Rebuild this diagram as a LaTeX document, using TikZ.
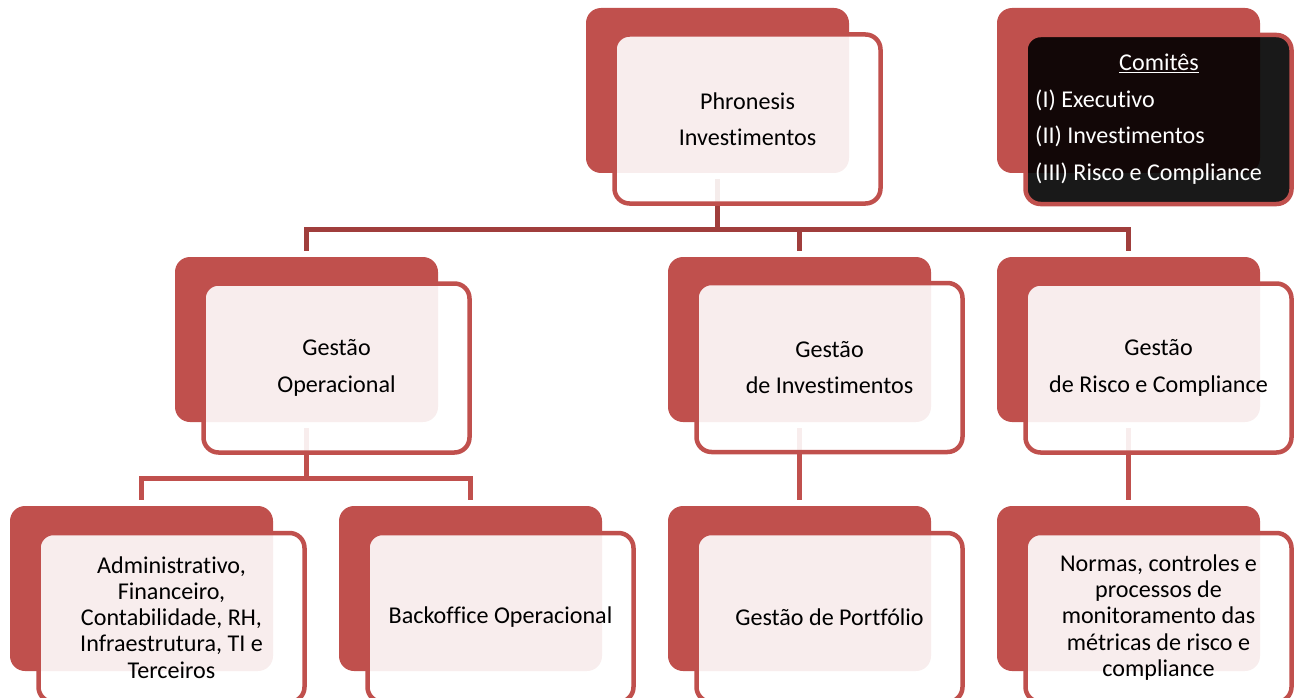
\documentclass[tikz,border=0pt]{standalone}
\usepackage{fontspec}
\setmainfont{Carlito}[Ligatures=NoCommon]
\definecolor{accred}{RGB}{192,80,77}
\definecolor{darkconn}{RGB}{160,62,60}
\tikzset{
 backbox/.style={fill=accred, draw=none, rounded corners=15pt, minimum width=263pt, minimum height=165pt, inner sep=0pt},
 frontbox/.style={draw=accred, line width=4.5pt, fill=white, fill opacity=0.9, draw opacity=1, text opacity=1, rounded corners=15pt, minimum width=266pt, minimum height=169pt, inner sep=0pt, align=center, font=\fontsize{24.1}{36.5}\selectfont},
 darkfront/.style={frontbox, fill=black},
 comtext/.style={text=white, align=left, inner sep=0pt, font=\fontsize{24.1}{36.5}\selectfont},
 smalltext/.style={font=\fontsize{24.1}{26.2}\selectfont},
 conntop/.style={draw=darkconn, line width=5pt},
 connlow/.style={draw=accred, line width=5pt},
}
\begin{document}
\begin{tikzpicture}[x=1pt,y=-1pt]
\useasboundingbox (0,0) rectangle (1296,698);
\clip (0,0) rectangle (1296,698);
% back boxes
\node[backbox] (pb) at (717.5,90.5) {};
\node[backbox] (cb) at (1128.5,90.5) {};
\node[backbox] (gob) at (306.5,339.5) {};
\node[backbox] (gib) at (799.5,339.5) {};
\node[backbox] (grb) at (1128.5,339.5) {};
\node[backbox] (adb) at (141.5,588.5) {};
\node[backbox] (bob) at (470.5,588.5) {};
\node[backbox] (ptb) at (799.5,588.5) {};
\node[backbox] (nmb) at (1128.5,588.5) {};
% connectors
\coordinate (bar1) at (717.5,229.5);
\draw[conntop] ([yshift=-6pt]pb.south) -- (bar1);
\draw[conntop] ([yshift=6pt]gob.north) |- (bar1) -| ([yshift=6pt]grb.north);
\draw[conntop] ([yshift=6pt]gib.north) -- (gib.north |- bar1);
\coordinate (bar2) at (306.5,478.5);
\draw[connlow] ([yshift=-6pt]gob.south) -- (bar2);
\draw[connlow] ([yshift=6pt]adb.north) |- (bar2) -| ([yshift=6pt]bob.north);
\draw[connlow] ([yshift=-6pt]gib.south) -- ([yshift=6pt]ptb.north);
\draw[connlow] ([yshift=-6pt]grb.south) -- ([yshift=6pt]nmb.north);
% front boxes
\node[frontbox] (pf) at (747.5,119) {Phronesis\\Investimentos};
\node[darkfront] (cf) at (1158.5,119.5) {};
\node[comtext, anchor=west] (ct) at (1035,119) {\hspace*{84pt}\underline{Comitês}\\(I) Executivo\\(II) Investimentos\\(III) Risco e Compliance};
\node[frontbox] (gof) at (336.5,368) {Gestão\\Operacional};
\node[frontbox] (gif) at (829.5,367.5) {Gestão\\de Investimentos};
\node[frontbox] (grf) at (1158.5,368) {Gestão\\de Risco e Compliance};
\node[frontbox,smalltext] (adf) at (171.5,617.5) {Administrativo,\\Financeiro,\\Contabilidade, RH,\\Infraestrutura, TI e\\Terceiros};
\node[frontbox,smalltext] (bof) at (500.5,617.5) {Backoffice Operacional};
\node[frontbox,smalltext] (ptf) at (829.5,617.5) {Gestão de Portfólio};
\node[frontbox,smalltext] (nmf) at (1158.5,617.5) {Normas, controles e\\processos de\\monitoramento das\\métricas de risco e\\compliance};
\end{tikzpicture}
\end{document}
